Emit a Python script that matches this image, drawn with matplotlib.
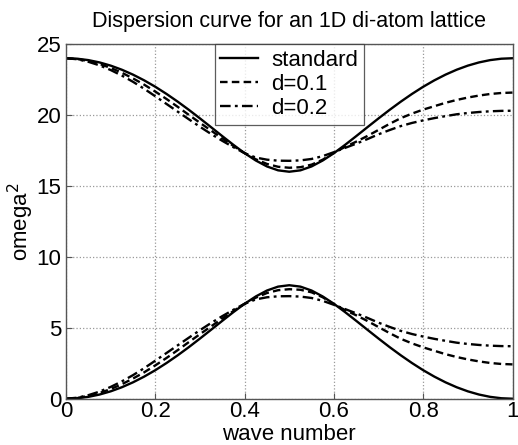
import matplotlib
matplotlib.use("Agg")
import matplotlib.pyplot as plt

plt.rcParams['font.family'] = ['Liberation Sans', 'DejaVu Sans']

# wave number samples
k = [0.0, 0.025, 0.05, 0.075, 0.1, 0.125, 0.15, 0.175, 0.2, 0.225, 0.25,
     0.275, 0.3, 0.325, 0.35, 0.375, 0.4, 0.425, 0.45, 0.475, 0.5,
     0.525, 0.55, 0.575, 0.6, 0.625, 0.65, 0.675, 0.7, 0.725, 0.75,
     0.775, 0.8, 0.825, 0.85, 0.875, 0.9, 0.925, 0.95, 0.975, 1.0]

# lower (acoustic) branch
low_std = [0.0, 0.033, 0.131, 0.294, 0.52, 0.808, 1.155, 1.557, 2.01, 2.513, 3.056,
           3.633, 4.24, 4.862, 5.49, 6.106, 6.69, 7.207, 7.626, 7.902, 8.0,
           7.902, 7.626, 7.207, 6.69, 6.106, 5.49, 4.862, 4.24, 3.633, 3.056,
           2.513, 2.01, 1.557, 1.155, 0.808, 0.52, 0.294, 0.131, 0.033, 0.0]
low_d1 = [0.0, 0.05, 0.19, 0.40, 0.68, 1.02, 1.42, 1.86, 2.35, 2.87, 3.42,
          3.99, 4.55, 5.10, 5.65, 6.18, 6.69, 7.12, 7.45, 7.65, 7.72,
          7.68, 7.50, 7.15, 6.66, 6.25, 5.88, 5.48, 5.05, 4.62, 4.22,
          3.90, 3.62, 3.38, 3.14, 2.94, 2.77, 2.63, 2.52, 2.45, 2.42]
low_d2 = [0.0, 0.07, 0.25, 0.50, 0.83, 1.22, 1.66, 2.15, 2.68, 3.22, 3.76,
          4.30, 4.83, 5.34, 5.82, 6.27, 6.69, 7.00, 7.15, 7.22, 7.23,
          7.20, 7.10, 6.90, 6.62, 6.32, 6.02, 5.70, 5.36, 5.06, 4.78,
          4.56, 4.38, 4.22, 4.08, 3.95, 3.86, 3.79, 3.74, 3.71, 3.70]

# upper (optical) branch
up_std = [24.0, 23.967, 23.869, 23.706, 23.48, 23.192, 22.845, 22.443, 21.99, 21.487, 20.944,
          20.367, 19.76, 19.138, 18.51, 17.894, 17.31, 16.793, 16.374, 16.098, 16.0,
          16.098, 16.374, 16.793, 17.31, 17.894, 18.51, 19.138, 19.76, 20.367, 20.944,
          21.487, 21.99, 22.443, 22.845, 23.192, 23.48, 23.706, 23.869, 23.967, 24.0]
up_d1 = [24.0, 23.95, 23.81, 23.60, 23.32, 22.98, 22.58, 22.14, 21.65, 21.13, 20.58,
         20.01, 19.45, 18.90, 18.35, 17.82, 17.31, 16.88, 16.55, 16.35, 16.28,
         16.32, 16.50, 16.85, 17.34, 17.75, 18.12, 18.52, 18.95, 19.38, 19.78,
         20.10, 20.38, 20.62, 20.86, 21.06, 21.23, 21.37, 21.48, 21.55, 21.58]
up_d2 = [24.0, 23.93, 23.75, 23.50, 23.17, 22.78, 22.34, 21.85, 21.32, 20.78, 20.24,
         19.70, 19.17, 18.66, 18.18, 17.73, 17.31, 17.00, 16.85, 16.78, 16.77,
         16.80, 16.90, 17.10, 17.38, 17.68, 17.98, 18.30, 18.64, 18.94, 19.22,
         19.44, 19.62, 19.78, 19.92, 20.05, 20.14, 20.21, 20.26, 20.29, 20.30]

labels = ['standard', 'd=0.1', 'd=0.2']

fig = plt.figure(figsize=(5.18, 4.45), dpi=100)
ax = fig.add_axes([0.1274, 0.104, 0.862, 0.797])

lw = 1.7
dash = (0, (3.2, 1.8))
dashdot = (0, (4.5, 1.8, 1.2, 1.8))
l1, = ax.plot(k, up_std, color='black', lw=lw, ls='-')
l2, = ax.plot(k, up_d1, color='black', lw=lw, ls=dash)
l3, = ax.plot(k, up_d2, color='black', lw=lw, ls=dashdot)
ax.plot(k, low_std, color='black', lw=lw, ls='-')
ax.plot(k, low_d1, color='black', lw=lw, ls=dash)
ax.plot(k, low_d2, color='black', lw=lw, ls=dashdot)

ax.set_xlim(0, 1)
ax.set_ylim(0, 25)
ax.set_xticks([0, 0.2, 0.4, 0.6, 0.8, 1])
ax.set_xticklabels(['0', '0.2', '0.4', '0.6', '0.8', '1'])
ax.set_yticks([0, 5, 10, 15, 20, 25])
ax.grid(True, color='#999999', ls=':', lw=0.9)
ax.tick_params(direction='in', labelsize=16, length=4, color='#555555')
ax.tick_params(axis='x', pad=2)
for s in ax.spines.values():
    s.set_color('#555555')
    s.set_linewidth(1.0)

ax.set_title('Dispersion curve for an 1D di-atom lattice', fontsize=15.5, pad=12)
ax.set_xlabel('wave number', fontsize=16, labelpad=1)
ax.set_ylabel('omega$^2$', fontsize=16, labelpad=0)

leg = ax.legend([l1, l2, l3], labels, loc='upper center', fontsize=16,
                frameon=True, fancybox=False, edgecolor='#333333',
                borderaxespad=0.0, handlelength=1.7, handletextpad=0.6,
                labelspacing=0.15, borderpad=0.25)
leg.get_frame().set_linewidth(0.9)

fig.savefig('out.png', dpi=100)
